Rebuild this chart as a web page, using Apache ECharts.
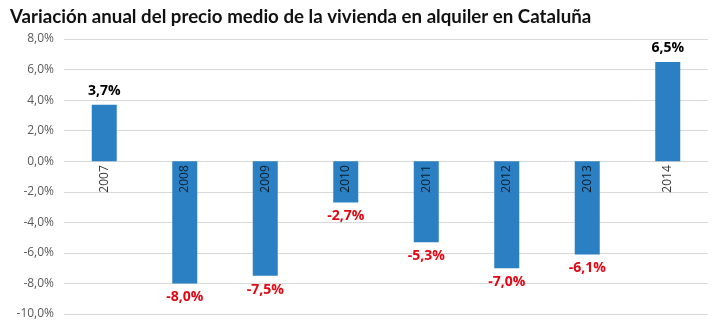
<!DOCTYPE html>
<html><head><meta charset="utf-8">
<script src="https://cdn.jsdelivr.net/npm/echarts@6/dist/echarts.min.js"></script>
<style>html,body{margin:0;padding:0;background:#fff}#c{width:718px;height:329px}</style>
</head><body><div id="c"></div>
<script>
const title = 'Variación anual del precio medio de la vivienda en alquiler en Cataluña';
const years = ['2007','2008','2009','2010','2011','2012','2013','2014'];
const values = [3.7, -8.0, -7.5, -2.7, -5.3, -7.0, -6.1, 6.5];
const fmt = v => v.toFixed(1).replace('.', ',') + '%';
const chart = echarts.init(document.getElementById('c'));
chart.setOption({
  animation: false,
  title: {text: title, left: 5, top: 2, textStyle: {fontFamily: 'Lato', fontWeight: 'bold', fontSize: 18.7, color: '#111'}},
  grid: {left: 64, right: 10, top: 39, bottom: 15, containLabel: false, outerBoundsMode: 'none'},
  xAxis: {
    type: 'category', data: years,
    axisLine: {show: false},
    axisTick: {show: false},
    axisLabel: {show: false}
  },
  yAxis: {
    type: 'value', min: -10, max: 8, interval: 2,
    axisLine: {show: false}, axisTick: {show: false},
    splitLine: {lineStyle: {color: '#d9d9d9'}},
    axisLabel: {formatter: v => fmt(v), color: '#595959', fontFamily: 'Open Sans', fontSize: 12, margin: 10}
  },
  series: [{
    type: 'bar', barWidth: 25,
    itemStyle: {color: '#2a80c2'},
    data: values.map(v => ({
      value: v,
      label: {show: true, position: v >= 0 ? 'top' : 'bottom', distance: 7,
        formatter: fmt(v), fontFamily: 'Open Sans', fontWeight: 'bold', fontSize: 14,
        color: v >= 0 ? '#000' : '#e30613'}
    }))
  }, {
    type: 'scatter', symbolSize: 0, silent: true, z: 5,
    data: years.map(y => [y, 0]),
    label: {show: true, position: 'bottom', distance: 4, rotate: 90, align: 'right', verticalAlign: 'middle',
      formatter: p => p.value[0], color: '#000', fontFamily: 'Open Sans', fontSize: 12}
  }]
});
</script></body></html>
